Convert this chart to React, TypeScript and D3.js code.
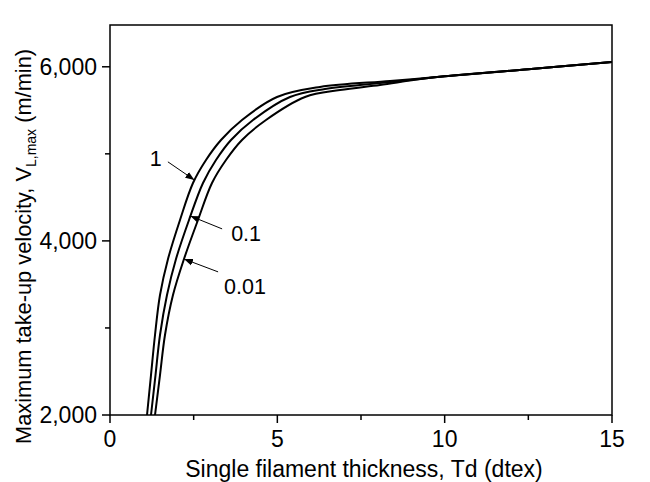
import React from "react";
import * as d3 from "d3";

const W = 650;
const H = 482;

const xTicksMajor = [0, 5, 10, 15];
const xTicksMinor = [2.5, 7.5, 12.5];
const yTicksMajor = [2000, 4000, 6000];
const yTicksMinor = [3000, 5000];

const td1 = [1.106, 1.225, 1.345, 1.494, 1.733, 2.092, 2.48, 2.869, 3.317, 3.944, 4.99, 6.275, 8.367, 10, 12.5, 15];
const v1 = [2000, 2459, 2919, 3378, 3792, 4240, 4665, 4929, 5159, 5389, 5653, 5768, 5837, 5890, 5972, 6055];

const td01 = [1.225, 1.36, 1.494, 1.703, 1.972, 2.361, 2.779, 3.167, 3.616, 4.273, 5.378, 6.424, 7.47, 8.815, 10, 12.5, 15];
const v01 = [2000, 2459, 2919, 3378, 3792, 4240, 4665, 4929, 5159, 5389, 5653, 5745, 5791, 5840, 5890, 5972, 6055];

const td001 = [1.345, 1.494, 1.643, 1.882, 2.211, 2.629, 3.048, 3.466, 3.944, 4.661, 5.827, 6.872, 8.068, 9.114, 10, 12.5, 15];
const v001 = [2000, 2459, 2919, 3378, 3792, 4240, 4665, 4929, 5159, 5389, 5653, 5733, 5791, 5850, 5890, 5972, 6055];

const seriesLabels = ["1", "0.1", "0.01"];
const labelTd = [1.37, 3.62, 3.41];
const labelV = [4862, 4000, 3391];
const tailTd = [1.73, 3.35, 3.23];
const tailV = [4908, 4138, 3644];
const tipTd = [2.52, 2.40, 2.21];
const tipV = [4700, 4286, 3792];

const FONT = "'Liberation Sans', Arial, sans-serif";

export default function App() {
  const left = 110, right = 612, top = 25, bottom = 415;
  const x = d3.scaleLinear().domain([0, 15]).range([left, right]);
  const y = d3.scaleLinear().domain([2000, 6480]).range([bottom, top]);

  const line = d3
    .line<[number, number]>()
    .x((d) => x(d[0]))
    .y((d) => y(d[1]))
    .curve(d3.curveCatmullRom.alpha(0.5));

  const series = [
    td1.map((t, i) => [t, v1[i]] as [number, number]),
    td01.map((t, i) => [t, v01[i]] as [number, number]),
    td001.map((t, i) => [t, v001[i]] as [number, number]),
  ];

  const fmt = d3.format(",");
  const fs = 23;

  return (
    <svg
      width={W}
      height={H}
      style={{ position: "absolute", left: 0, top: 0, background: "#fff" }}
      fontFamily={FONT}
    >
      <defs>
        <clipPath id="plotclip">
          <rect x={left} y={top} width={right - left} height={bottom - top} />
        </clipPath>
        <marker
          id="arrow"
          markerUnits="userSpaceOnUse"
          markerWidth="10"
          markerHeight="8"
          refX="9"
          refY="4"
          orient="auto"
        >
          <path d="M0,0.5 L9,4 L0,7.5 Z" fill="#000" />
        </marker>
      </defs>
      <rect x={0} y={0} width={W} height={H} fill="#fff" />

      <g clipPath="url(#plotclip)">
        {series.map((s, i) => (
          <path key={i} d={line(s) || ""} fill="none" stroke="#000" strokeWidth={2} />
        ))}
      </g>

      <rect x={left} y={top} width={right - left} height={bottom - top} fill="none" stroke="#000" strokeWidth={1.5} />

      {xTicksMajor.map((t) => (
        <g key={"xm" + t}>
          <line x1={x(t)} x2={x(t)} y1={bottom} y2={bottom + 8} stroke="#000" strokeWidth={1.5} />
          <text x={x(t)} y={447} textAnchor="middle" fontSize={fs}>
            {t}
          </text>
        </g>
      ))}
      {xTicksMinor.map((t) => (
        <line key={"xn" + t} x1={x(t)} x2={x(t)} y1={bottom} y2={bottom + 5} stroke="#000" strokeWidth={1.5} />
      ))}

      {yTicksMajor.map((t) => (
        <g key={"ym" + t}>
          <line x1={left - 8} x2={left} y1={y(t)} y2={y(t)} stroke="#000" strokeWidth={1.5} />
          <text x={97} y={y(t) + 8.2} textAnchor="end" fontSize={fs}>
            {fmt(t)}
          </text>
        </g>
      ))}
      {yTicksMinor.map((t) => (
        <line key={"yn" + t} x1={left - 5} x2={left} y1={y(t)} y2={y(t)} stroke="#000" strokeWidth={1.5} />
      ))}

      <text x={(left + right) / 2 + 3} y={477} textAnchor="middle" fontSize={fs}>
        Single filament thickness, Td (dtex)
      </text>
      <text transform="translate(31,444) rotate(-90)" textAnchor="start" fontSize={21.8}>
        Maximum take-up velocity, V
        <tspan fontSize={14} dy={5}>L,max</tspan>
        <tspan dy={-5}> (m/min)</tspan>
      </text>

      {seriesLabels.map((lab, i) => (
        <g key={"a" + i}>
          <line
            x1={x(tailTd[i])}
            y1={y(tailV[i])}
            x2={x(tipTd[i])}
            y2={y(tipV[i])}
            stroke="#000"
            strokeWidth={1}
            markerEnd="url(#arrow)"
          />
          <text
            x={x(labelTd[i])}
            y={y(labelV[i])}
            textAnchor={i === 0 ? "middle" : "start"}
            fontSize={21.5}
          >
            {lab}
          </text>
        </g>
      ))}
    </svg>
  );
}
